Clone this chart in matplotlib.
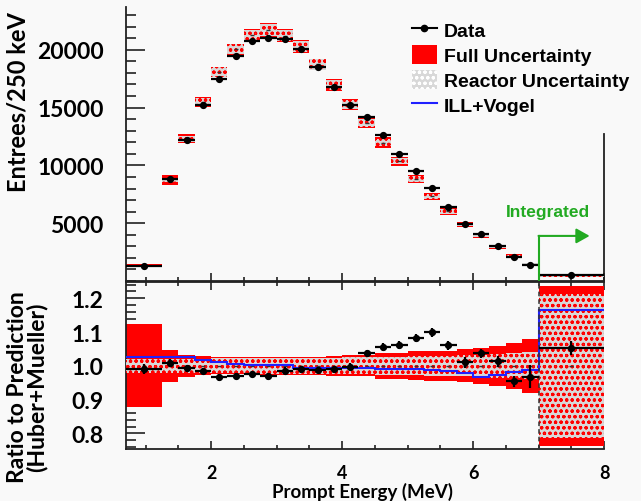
import numpy as np
import matplotlib
matplotlib.use("Agg")
import matplotlib.pyplot as plt
from matplotlib.lines import Line2D
from matplotlib.patches import Patch
from matplotlib.ticker import MultipleLocator, FormatStrFormatter, FixedLocator

# ---------------- data ----------------
bin_edges = [0.7, 1.25, 1.5, 1.75, 2.0, 2.25, 2.5, 2.75, 3.0, 3.25, 3.5, 3.75,
             4.0, 4.25, 4.5, 4.75, 5.0, 5.25, 5.5, 5.75, 6.0, 6.25, 6.5, 6.75,
             7.0, 8.0]
data_counts = [1320, 8820, 12220, 15230, 17470, 19440, 20730, 21020, 20930,
               20070, 18510, 16780, 15230, 14160, 12630, 10990, 9540, 8050,
               6380, 4930, 4040, 3000, 2050, 1410, 520]
ratio = [0.990, 1.008, 0.993, 0.985, 0.966, 0.970, 0.976, 0.969, 0.986, 0.990,
         0.988, 0.990, 0.997, 1.037, 1.056, 1.061, 1.082, 1.099, 1.061, 1.010,
         1.037, 1.013, 0.954, 0.968, 1.052]
ratio_err = [0.014, 0.012, 0.010, 0.010, 0.010, 0.010, 0.010, 0.010, 0.010,
             0.010, 0.010, 0.010, 0.010, 0.011, 0.011, 0.012, 0.012, 0.013,
             0.013, 0.016, 0.014, 0.017, 0.016, 0.034, 0.021]
full_unc = [0.123, 0.047, 0.032, 0.028, 0.025, 0.025, 0.026, 0.027, 0.027,
            0.027, 0.027, 0.030, 0.031, 0.031, 0.038, 0.038, 0.043, 0.045,
            0.045, 0.049, 0.054, 0.060, 0.068, 0.080, 0.237]
reactor_unc = [0.021, 0.021, 0.021, 0.021, 0.022, 0.022, 0.022, 0.023, 0.023,
               0.023, 0.024, 0.024, 0.025, 0.025, 0.026, 0.027, 0.028, 0.029,
               0.030, 0.031, 0.033, 0.035, 0.037, 0.040, 0.213]
ill_vogel = [1.025, 1.025, 1.025, 1.017, 1.010, 1.005, 1.002, 1.002, 1.002,
             0.995, 0.995, 0.995, 0.994, 0.993, 0.992, 0.992, 0.992, 0.988,
             0.984, 0.978, 0.968, 0.972, 0.981, 0.989, 1.165]
integrated_start = 7.0
top_yticks = [5000, 10000, 15000, 20000]
bottom_yticks = [0.8, 0.9, 1.0, 1.1, 1.2]
x_ticks = [2, 4, 6, 8]

# ---------------- derived ----------------
edges = np.array(bin_edges)
lo = edges[:-1]
w = np.diff(edges)
ctr = lo + w / 2
data = np.array(data_counts, float)
r = np.array(ratio)
rerr = np.array(ratio_err)
full = np.array(full_unc)
reac = np.array(reactor_unc)
pred = data / r

BG = "#f9f9f9"
RED = "#ff0000"
HATCH_FACE = "#d8d8d8"
BLUE = "#2020ff"
GREEN = "#22aa22"
SPINE = "#222222"

plt.rcParams["hatch.linewidth"] = 0.85

fig = plt.figure(figsize=(6.41, 5.02), dpi=100, facecolor=BG)
W, H = 641.0, 502.0
ax1 = fig.add_axes([126 / W, 1 - 282 / H, 478 / W, 274 / H], facecolor=BG)
ax2 = fig.add_axes([126 / W, 1 - 450 / H, 478 / W, 167 / H], facecolor=BG)

# ---------------- top panel ----------------
ax1.bar(lo, 2 * pred * full, w, bottom=pred * (1 - full), align="edge",
        color=RED, lw=0, zorder=2)
ax1.bar(lo, 2 * pred * reac, w, bottom=pred * (1 - reac), align="edge",
        facecolor=HATCH_FACE, edgecolor=RED, hatch="ooo", lw=0, zorder=3)
ax1.plot(ctr, pred, "_", color="#333333", ms=3, mew=1, zorder=4)
ax1.errorbar(ctr, data, xerr=w / 2, yerr=data * rerr / r, fmt="o",
             color="black", ms=4.2, elinewidth=1.6, capsize=0, zorder=5)

# integrated marker
ax1.plot([integrated_start, integrated_start], [0, 3900], color=GREEN, lw=1.5,
         zorder=6)
ax1.annotate("", xy=(7.78, 3900), xytext=(integrated_start, 3900),
             arrowprops=dict(arrowstyle="-|>,head_length=0.8,head_width=0.45",
                             color=GREEN, lw=1.5, shrinkA=0, shrinkB=0),
             zorder=6)
ax1.text(7.14, 6050, "Integrated", color=GREEN, ha="center", va="center",
         fontsize=12.5, family="Liberation Sans", weight="bold")

ax1.set_xlim(0.7, 8.0)
ax1.set_ylim(0, 23700)
ax1.spines["top"].set_visible(False)
for s in ["left", "right", "bottom"]:
    ax1.spines[s].set_color(SPINE)
    ax1.spines[s].set_linewidth(1.3)
ax1.spines["right"].set_bounds(0, 12700)
ax1.yaxis.set_major_locator(FixedLocator(top_yticks))
ax1.yaxis.set_minor_locator(MultipleLocator(1000))
ax1.xaxis.set_major_locator(FixedLocator(x_ticks))
ax1.xaxis.set_minor_locator(MultipleLocator(0.5))
ax1.xaxis.set_tick_params(which="major", direction="in", length=5.5, width=1.2,
                          color=SPINE, labelbottom=False)
ax1.xaxis.set_tick_params(which="minor", direction="in", length=2.8, width=1.2,
                          color=SPINE)
ax1.yaxis.set_tick_params(which="major", direction="in", length=14, width=1.2,
                          color=SPINE, pad=16, labelsize=16.5)
ax1.yaxis.set_tick_params(which="minor", direction="in", length=7, width=1.2,
                          color=SPINE)
for t in ax1.get_yticklabels():
    t.set_fontfamily("Lato")
    t.set_fontweight("bold")

handles = [
    Line2D([], [], color="black", marker="o", ms=4.5, lw=1.5),
    Patch(facecolor=RED, edgecolor=RED, lw=0),
    Patch(facecolor=HATCH_FACE, edgecolor="white", hatch="ooo", lw=0),
    Line2D([], [], color=BLUE, lw=1.5),
]
labels = ["Data", "Full Uncertainty", "Reactor Uncertainty", "ILL+Vogel"]
leg = ax1.legend(handles, labels, loc="upper left",
                 bbox_to_anchor=(405 / W, 1 - 14 / H),
                 bbox_transform=fig.transFigure,
                 prop=dict(family="Liberation Sans", weight="bold", size=14.0),
                 frameon=True, facecolor=BG, edgecolor="none", framealpha=1,
                 fancybox=False, handlelength=1.3, handleheight=1.1,
                 handletextpad=0.35, labelspacing=0.27, borderpad=0.35,
                 borderaxespad=0)

# ---------------- bottom panel ----------------
ax2.bar(lo, 2 * full, w, bottom=1 - full, align="edge", color=RED, lw=0,
        zorder=2)
ax2.bar(lo, 2 * reac, w, bottom=1 - reac, align="edge", facecolor=HATCH_FACE,
        edgecolor=RED, hatch="ooo", lw=0, zorder=3)
ax2.plot(ctr, np.ones_like(ctr), "_", color="#333333", ms=3, mew=1, zorder=4)
ax2.stairs(ill_vogel, edges, baseline=None, color=BLUE, lw=1.5, zorder=5)
ax2.axvline(integrated_start, color="#333333", ls=(0, (3, 2)), lw=1.1, zorder=5)
ax2.errorbar(ctr, r, xerr=w / 2, yerr=rerr, fmt="o", color="black", ms=4.2,
             elinewidth=1.6, capsize=0, zorder=6)

ax2.set_xlim(0.7, 8.0)
ax2.set_ylim(0.754, 1.248)
for s in ax2.spines.values():
    s.set_color(SPINE)
    s.set_linewidth(1.3)
ax2.spines["right"].set_visible(False)
ax2.yaxis.set_major_locator(FixedLocator(bottom_yticks))
ax2.yaxis.set_minor_locator(MultipleLocator(0.02))
ax2.yaxis.set_major_formatter(FormatStrFormatter("%.1f"))
ax2.xaxis.set_major_locator(FixedLocator(x_ticks))
ax2.xaxis.set_minor_locator(MultipleLocator(0.5))
ax2.xaxis.set_tick_params(which="major", direction="in", length=5.5, width=1.2,
                          color=SPINE, top=True, pad=11, labelsize=13)
ax2.xaxis.set_tick_params(which="minor", direction="in", length=2.8, width=1.2,
                          color=SPINE, top=True)
ax2.yaxis.set_tick_params(which="major", direction="in", length=14, width=1.2,
                          color=SPINE, pad=16, labelsize=16.5)
ax2.yaxis.set_tick_params(which="minor", direction="in", length=7, width=1.2,
                          color=SPINE)
for t in ax2.get_yticklabels() + ax2.get_xticklabels():
    t.set_fontfamily("Lato")
    t.set_fontweight("bold")

# ---------------- axis titles ----------------
fig.text(18 / W, 1 - 102 / H, "Entrees/250 keV", rotation=90, ha="center",
         va="center", fontsize=17, family="Lato", weight="bold")
fig.text(27 / W, 1 - 387 / H, "Ratio to Prediction\n(Huber+Mueller)",
         rotation=90, ha="center", va="center", fontsize=16.5, family="Lato",
         weight="bold", linespacing=0.9, multialignment="center")
fig.text(362 / W, 1 - 492 / H, "Prompt Energy (MeV)", ha="center",
         va="center", fontsize=13.5, family="Lato", weight="bold")

fig.savefig("out.png", dpi=100, facecolor=BG)
